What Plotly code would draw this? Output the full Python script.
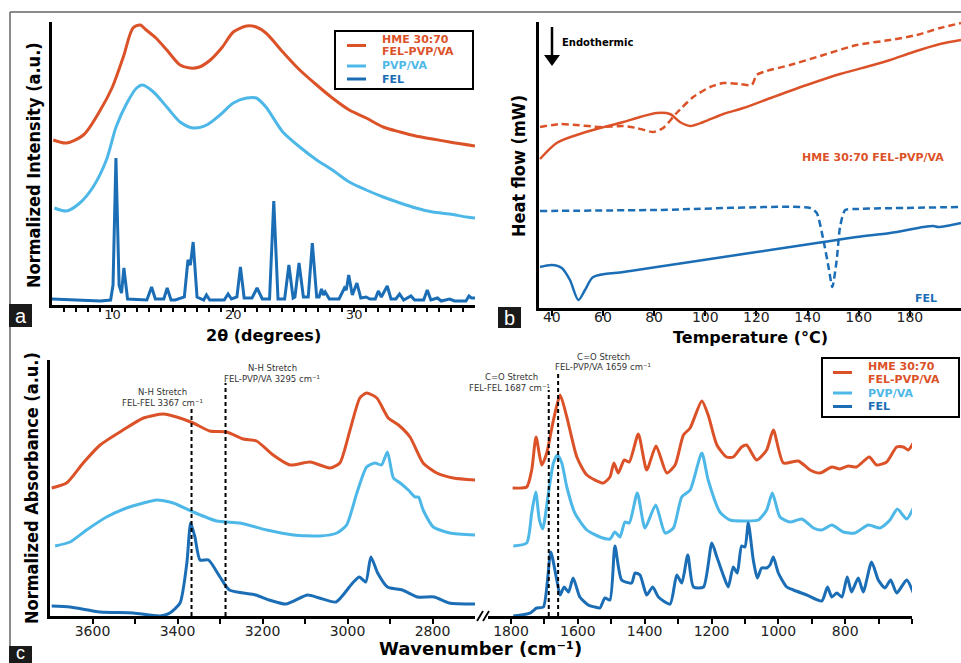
import plotly.graph_objects as go

W, H = 961, 663
C_HME = "#DC5228"
C_PVP = "#4DB8E8"
C_FEL = "#1B6EB5"

# ---------------- Panel a: XRD ----------------
xrd_deg_hme = [5.1, 6.2, 7.6, 9.0, 10.0, 10.9, 11.7, 12.3, 12.8, 13.6, 14.5, 15.6, 16.4, 17.2, 18.1, 19.1,
               20.0, 21.1, 21.9, 22.7, 24.1, 25.5, 26.9, 28.2, 29.6, 31.0, 32.4, 33.8, 35.1, 36.5, 37.9, 40.0]
xrd_int_hme = [165, 162, 170, 195, 218, 248, 277, 280, 275, 267, 255, 240, 237, 238, 245, 258,
               273, 279, 278, 272, 253, 235, 220, 207, 195, 187, 178, 173, 169, 166, 163, 159]

xrd_deg_pvp = [5.2, 6.2, 7.3, 8.4, 9.5, 10.3, 11.2, 12.0, 12.5, 13.4, 14.5, 15.6, 16.7, 17.8, 18.9, 20.0,
               21.1, 21.9, 22.7, 24.1, 25.5, 26.9, 28.2, 29.6, 31.0, 32.4, 33.8, 35.1, 36.5, 37.9, 39.3, 40.0]
xrd_int_pvp = [97, 94, 102, 118, 145, 178, 202, 217, 220, 213, 198, 183, 177, 180, 190, 202,
               207, 207, 198, 173, 158, 145, 135, 123, 115, 108, 102, 97, 93, 91, 88, 87]

xrd_deg_fel = [5.0, 7.0, 9.0, 9.85, 10.05, 10.29, 10.55, 10.75, 10.95, 11.25, 12.85, 13.24, 13.55, 14.25, 14.53, 14.85,
               15.2, 15.95, 16.25, 16.45, 16.68, 17.0, 17.55, 17.78, 18.05, 19.25, 19.57, 19.85, 20.3, 20.59, 20.9,
               21.55, 21.97, 22.4, 23.0, 23.35, 23.7, 24.25, 24.6, 24.95, 25.1, 25.44, 25.8, 26.2, 26.54, 26.9,
               27.1, 27.3, 27.45, 27.6, 27.95, 28.75, 29.2, 29.35, 29.55, 29.85, 30.23, 30.55, 31.0, 31.3, 31.75, 32.0,
               32.25, 32.74, 33.05, 33.45, 33.76, 34.1, 34.7, 35.0, 35.75, 36.05, 36.35, 36.9, 37.2, 37.9, 38.3, 39.25,
               39.5, 39.7, 40.0]
xrd_int_fel = [6, 5, 4, 5, 20, 147, 20, 12, 37, 6, 5, 18, 6, 6, 17, 5,
               5, 8, 45, 40, 63, 8, 5, 10, 5, 5, 11, 6, 8, 38, 7,
               7, 17, 6, 6, 104, 6, 6, 40, 7, 8, 42, 8, 8, 62, 8,
               8, 16, 10, 13, 6, 6, 17, 15, 30, 10, 22, 7, 8, 6, 6, 14,
               8, 19, 6, 6, 11, 5, 9, 5, 5, 15, 5, 7, 4, 6, 4, 4,
               9, 7, 7]
xrd_tick_vals = list(range(6, 40))
xrd_tick_text = [str(v) if v % 10 == 0 else "" for v in xrd_tick_vals]

# ---------------- Panel b: DSC ----------------
dsc_t_hme = [35.4, 41.9, 49.7, 58.9, 68, 74.5, 81, 86.2, 90.1, 94.1, 99.3, 107.1, 114.9, 126.6, 139.7, 152.7,
             165.7, 172.3, 181.4, 191.8, 200]
dsc_hf_hme = [149, 165, 173, 180, 186, 191, 195, 194, 186, 182, 186, 194, 200, 211, 223, 234,
              243, 248, 256, 264, 268]
dsc_t_hme2 = [35.4, 43.2, 49.7, 58.9, 68, 73.2, 79.7, 83.6, 88.8, 95.3, 101.9, 107.1, 113.6, 118.2, 120.1, 124,
              133.2, 146.2, 159.2, 172.3, 182.7, 191.8, 200]
dsc_hf_hme2 = [181, 184, 183, 181, 182, 180, 176, 180, 195, 211, 221, 225, 224, 223, 233, 237,
               243, 253, 263, 268, 273, 280, 285]
dsc_t_fel2 = [35.4, 81, 141, 143.6, 146.2, 148.2, 149.7, 151.4, 152.7, 154.7, 159.2, 200]
dsc_hf_fel2 = [97, 98, 100, 95, 68, 41, 21, 48, 81, 98, 99, 101]
dsc_t_fel = [35.4, 40, 43.9, 47.1, 50.4, 53, 56.2, 68, 81, 94.1, 107.1, 120.1, 133.2, 146.2, 159.2, 172.3,
             185.3, 189.2, 191.2, 200]
dsc_hf_fel = [41, 43, 40, 28, 8, 18, 31, 36, 41, 46, 51, 56, 61, 66, 71, 75,
              81, 82, 81, 85]
dsc_tick_vals = [40, 60, 80, 100, 120, 140, 160, 180]

# ---------------- Panel c: FTIR ----------------
ir_wn_hme_hi = [3696, 3661, 3622, 3582, 3528, 3480, 3433, 3402, 3363, 3324, 3284, 3245, 3214, 3175, 3135, 3088,
                3041, 3018, 2994, 2971, 2955, 2931, 2904, 2880, 2853, 2822, 2790, 2751, 2700]
ir_ab_hme_hi = [128, 133, 153, 171, 186, 198, 202, 199, 193, 185, 184, 177, 175, 161, 151, 154,
                148, 153, 186, 218, 223, 218, 198, 191, 179, 153, 143, 138, 136]
ir_wn_hme_lo = [1795, 1753, 1738, 1725, 1708, 1693, 1673, 1653, 1633, 1603, 1573, 1524, 1504, 1492, 1479, 1461,
                1446, 1419, 1394, 1366, 1334, 1309, 1284, 1264, 1229, 1210, 1184, 1155, 1135, 1110, 1095, 1065,
                1035, 1015, 985, 940, 905, 875, 840, 816, 791, 766, 728, 706, 676, 646, 626, 611, 596]
ir_ab_hme_lo = [128, 129, 146, 179, 151, 163, 196, 221, 199, 159, 141, 133, 139, 153, 143, 156,
                154, 182, 146, 170, 143, 151, 181, 188, 215, 201, 171, 159, 159, 169, 171, 156,
                166, 186, 153, 155, 146, 143, 149, 147, 150, 149, 159, 151, 154, 169, 169, 166, 173]

ir_wn_pvp_hi = [3688, 3653, 3614, 3567, 3520, 3480, 3449, 3410, 3363, 3308, 3253, 3190, 3127, 3065, 3025, 3002,
                2978, 2955, 2935, 2920, 2906, 2892, 2876, 2857, 2841, 2833, 2822, 2798, 2759, 2700]
ir_ab_pvp_hi = [70, 74, 86, 99, 108, 113, 116, 113, 104, 95, 93, 86, 81, 80, 83, 91,
                123, 149, 153, 151, 164, 138, 133, 126, 119, 119, 106, 89, 83, 81]
ir_wn_pvp_lo = [1793, 1753, 1738, 1726, 1715, 1705, 1688, 1673, 1661, 1648, 1633, 1609, 1573, 1534, 1504, 1489,
                1474, 1459, 1446, 1422, 1399, 1367, 1339, 1314, 1289, 1264, 1229, 1210, 1175, 1145, 1095, 1060,
                1035, 1018, 995, 965, 930, 895, 870, 840, 806, 771, 731, 696, 666, 644, 616, 596]
ir_ab_pvp_lo = [70, 73, 103, 124, 96, 87, 123, 153, 161, 153, 129, 103, 86, 79, 77, 84,
                79, 94, 93, 123, 88, 111, 83, 88, 119, 126, 163, 136, 104, 96, 95, 96,
                106, 123, 99, 94, 97, 88, 86, 91, 84, 83, 91, 88, 96, 107, 97, 108]

ir_wn_fel_hi = [3696, 3653, 3582, 3504, 3441, 3418, 3394, 3378, 3369, 3359, 3347, 3327, 3300, 3278, 3216, 3184,
                3145, 3094, 3066, 3027, 2988, 2972, 2957, 2945, 2929, 2906, 2871, 2835, 2796, 2761, 2700]
ir_ab_fel_hi = [10, 9, 4, 3, 0, 3, 13, 53, 93, 79, 56, 56, 39, 26, 21, 16,
                12, 21, 18, 14, 33, 39, 34, 59, 43, 29, 26, 19, 19, 13, 12]
ir_wn_fel_lo = [1793, 1743, 1723, 1703, 1681, 1663, 1653, 1641, 1628, 1614, 1594, 1569, 1549, 1534, 1519, 1504,
                1489, 1469, 1439, 1429, 1414, 1394, 1376, 1359, 1324, 1304, 1289, 1271, 1254, 1224, 1199, 1184,
                1165, 1150, 1135, 1123, 1110, 1100, 1090, 1075, 1063, 1050, 1035, 1025, 1015, 1000, 975, 955,
                915, 870, 853, 840, 825, 810, 794, 781, 761, 746, 721, 701, 681, 664, 646, 616, 596]
ir_ab_fel_lo = [0, 3, 8, 9, 64, 36, 21, 29, 24, 38, 19, 11, 9, 8, 18, 16,
                70, 36, 33, 43, 41, 21, 29, 19, 12, 41, 33, 61, 29, 29, 73, 59,
                41, 29, 49, 43, 70, 69, 93, 56, 38, 48, 48, 51, 59, 43, 29, 26,
                21, 15, 29, 19, 23, 19, 39, 24, 38, 24, 54, 36, 28, 36, 23, 36, 23]

ir_marker_wn_hi = [3367, 3287]
ir_marker_top_hi = [209, 233]
ir_marker_wn_lo = [1687, 1659]
ir_marker_top_lo = [226, 243]
ir_tick_hi = [3600, 3500, 3400, 3300, 3200, 3100, 3000, 2900, 2800]
ir_tick_lo = [1800, 1700, 1600, 1500, 1400, 1300, 1200, 1100, 1000, 900, 800, 700, 600]


def px(x):
    return x / W


def py(y):
    return 1 - y / H


fig = go.Figure()

LW = 3
fig.add_trace(go.Scatter(x=xrd_deg_hme, y=xrd_int_hme, mode="lines", xaxis="x", yaxis="y",
                         line=dict(color=C_HME, width=LW, shape="spline", smoothing=0.8)))
fig.add_trace(go.Scatter(x=xrd_deg_pvp, y=xrd_int_pvp, mode="lines", xaxis="x", yaxis="y",
                         line=dict(color=C_PVP, width=LW, shape="spline", smoothing=0.8)))
fig.add_trace(go.Scatter(x=xrd_deg_fel, y=xrd_int_fel, mode="lines", xaxis="x", yaxis="y",
                         line=dict(color=C_FEL, width=LW)))

fig.add_trace(go.Scatter(x=dsc_t_hme, y=dsc_hf_hme, mode="lines", xaxis="x2", yaxis="y2",
                         line=dict(color=C_HME, width=2.5, shape="spline", smoothing=0.8)))
fig.add_trace(go.Scatter(x=dsc_t_hme2, y=dsc_hf_hme2, mode="lines", xaxis="x2", yaxis="y2",
                         line=dict(color=C_HME, width=2.5, dash="7px,4px", shape="spline", smoothing=0.6)))
fig.add_trace(go.Scatter(x=dsc_t_fel2, y=dsc_hf_fel2, mode="lines", xaxis="x2", yaxis="y2",
                         line=dict(color=C_FEL, width=2.5, dash="7px,4px", shape="spline", smoothing=0.6)))
fig.add_trace(go.Scatter(x=dsc_t_fel, y=dsc_hf_fel, mode="lines", xaxis="x2", yaxis="y2",
                         line=dict(color=C_FEL, width=2.5, shape="spline", smoothing=0.8)))

for wx, wy, c in [(ir_wn_hme_hi, ir_ab_hme_hi, C_HME), (ir_wn_pvp_hi, ir_ab_pvp_hi, C_PVP),
                  (ir_wn_fel_hi, ir_ab_fel_hi, C_FEL)]:
    fig.add_trace(go.Scatter(x=wx, y=wy, mode="lines", xaxis="x3", yaxis="y3",
                             line=dict(color=c, width=LW, shape="spline", smoothing=0.6)))
for wx, wy, c in [(ir_wn_hme_lo, ir_ab_hme_lo, C_HME), (ir_wn_pvp_lo, ir_ab_pvp_lo, C_PVP),
                  (ir_wn_fel_lo, ir_ab_fel_lo, C_FEL)]:
    fig.add_trace(go.Scatter(x=wx, y=wy, mode="lines", xaxis="x4", yaxis="y4",
                             line=dict(color=c, width=LW, shape="spline", smoothing=0.6)))

tickfont = dict(family="DejaVu Sans", size=13, color="#222")
common_x = dict(showline=True, linecolor="black", linewidth=2.5, ticks="outside", tickcolor="black",
                tickwidth=2, ticklen=5, showgrid=False, zeroline=False, fixedrange=True)
common_y = dict(showline=True, linecolor="black", linewidth=2.5, showticklabels=False, ticks="",
                showgrid=False, zeroline=False)

fig.update_layout(
    width=W, height=H, margin=dict(l=0, r=0, t=0, b=0),
    paper_bgcolor="white", plot_bgcolor="white", showlegend=False,
    xaxis=dict(common_x, domain=[px(52), px(475)], range=[5, 40], anchor="y",
               tickvals=xrd_tick_vals, ticktext=xrd_tick_text, tickfont=tickfont, ticklen=4,
               ticklabelstandoff=-8),
    yaxis=dict(common_y, domain=[py(305), py(22)], range=[0, 283], anchor="x"),
    xaxis2=dict(common_x, domain=[px(539), 1.0], range=[35, 200], anchor="y2",
                tickvals=dsc_tick_vals, tickfont=dict(tickfont, size=14), ticklabelstandoff=-11),
    yaxis2=dict(common_y, domain=[py(308), py(22)], range=[0, 286], anchor="x2"),
    xaxis3=dict(common_x, domain=[px(50), px(475)], range=[3700, 2700], anchor="y3",
                tickvals=ir_tick_hi, ticktext=[str(v) if v % 200 == 0 else "" for v in ir_tick_hi],
                tickfont=dict(tickfont, size=14), ticklabelstandoff=-5),
    yaxis3=dict(common_y, domain=[py(616), py(360)], range=[0, 256], anchor="x3"),
    xaxis4=dict(common_x, domain=[px(488), px(912)], range=[1868.8, 600.1], anchor="y4",
                tickvals=ir_tick_lo,
                ticktext=[str(v) if (v % 200 == 0 and v >= 800) else "" for v in ir_tick_lo],
                tickfont=dict(tickfont, size=14), ticklabelstandoff=-5),
    yaxis4=dict(common_y, domain=[py(616), py(360)], range=[0, 256], anchor="x4", showline=False),
)

shapes = []
# outer frame
shapes.append(dict(type="line", xref="paper", yref="paper", x0=px(10), x1=1.0, y0=py(12), y1=py(12),
                   line=dict(color="#666", width=1.5)))
shapes.append(dict(type="line", xref="paper", yref="paper", x0=px(10), x1=px(10), y0=py(12), y1=0,
                   line=dict(color="#666", width=1.5)))
# panel letter boxes
for (x0, y0, x1, y1) in [(9, 304, 32, 327), (498, 307, 521, 328), (9, 646, 32, 669)]:
    shapes.append(dict(type="rect", xref="paper", yref="paper", x0=px(x0), x1=px(x1), y0=py(y1), y1=py(y0),
                       fillcolor="#1a1a1a", line=dict(width=0)))
# legend boxes
for (x0, y0, x1, y1) in [(335, 31, 473, 89), (822, 358, 959, 417)]:
    shapes.append(dict(type="rect", xref="paper", yref="paper", x0=px(x0), x1=px(x1), y0=py(y1), y1=py(y0),
                       line=dict(color="black", width=2), fillcolor="white"))
# legend line samples
for (x0, x1, y, c) in [(347, 366, 45.5, C_HME), (347, 366, 66, C_PVP), (347, 366, 79, C_FEL),
                       (833, 852, 372.5, C_HME), (833, 852, 393, C_PVP), (833, 852, 406.5, C_FEL)]:
    shapes.append(dict(type="line", xref="paper", yref="paper", x0=px(x0), x1=px(x1), y0=py(y), y1=py(y),
                       line=dict(color=c, width=3)))
# endothermic arrow
shapes.append(dict(type="line", xref="paper", yref="paper", x0=px(552), x1=px(552), y0=py(27), y1=py(56),
                   line=dict(color="black", width=2.5)))
shapes.append(dict(type="path", xref="paper", yref="paper",
                   path=f"M {px(544)} {py(55)} L {px(560)} {py(55)} L {px(552)} {py(66)} Z",
                   fillcolor="black", line=dict(width=0)))
# axis break marks
for dx in (0, 6):
    shapes.append(dict(type="line", xref="paper", yref="paper", x0=px(477 + dx), x1=px(483 + dx),
                       y0=py(621), y1=py(611), line=dict(color="black", width=1.8)))
# dashed markers in FTIR panel
for wn, top in zip(ir_marker_wn_hi, ir_marker_top_hi):
    shapes.append(dict(type="line", xref="x3", yref="y3", x0=wn, x1=wn, y0=0, y1=top,
                       line=dict(color="black", width=2, dash="4px,3px")))
for wn, top in zip(ir_marker_wn_lo, ir_marker_top_lo):
    shapes.append(dict(type="line", xref="x4", yref="y4", x0=wn, x1=wn, y0=0, y1=top,
                       line=dict(color="black", width=2, dash="4px,3px")))
fig.update_layout(shapes=shapes)

ann = []


def text(x, y, s, size, color="black", family="DejaVu Sans", xanchor="center", angle=0, bold=False):
    ann.append(dict(xref="paper", yref="paper", x=px(x), y=py(y), text=(f"<b>{s}</b>" if bold else s),
                    showarrow=False, xanchor=xanchor, yanchor="middle", textangle=angle,
                    font=dict(family=family, size=size, color=color)))


# panel letters
text(20.5, 315.5, "a", 20, "white", "Liberation Sans")
text(509.5, 317.5, "b", 20, "white", "Liberation Sans")
text(20.5, 653, "c", 18, "white", "Liberation Sans")
# axis titles
text(263, 335, "2θ (degrees)", 16, bold=True)
text(750, 337, "Temperature (°C)", 16, bold=True)
text(480, 648, "Wavenumber (cm⁻¹)", 18, bold=True)
ytf = "Liberation Sans Narrow, DejaVu Sans Condensed, Arial Narrow, sans-serif"
text(33, 165, "Normalized Intensity (a.u.)", 18, family=ytf, angle=-90, bold=True)
text(518, 166, "Heat flow (mW)", 18, family=ytf, angle=-90, bold=True)
text(31, 488, "Normalized Absorbance (a.u.)", 18, family=ytf, angle=-90, bold=True)
# legends
for (x, ys) in [(380, (39, 52, 66, 79)), (866, (366, 379, 393, 406))]:
    text(x, ys[0], "HME 30:70", 11, C_HME, xanchor="left", bold=True)
    text(x, ys[1], "FEL-PVP/VA", 11, C_HME, xanchor="left", bold=True)
    text(x, ys[2], "PVP/VA", 11, C_PVP, xanchor="left", bold=True)
    text(x, ys[3], "FEL", 11, C_FEL, xanchor="left", bold=True)
# DSC annotations
text(560, 42, "Endothermic", 10, xanchor="left", bold=True)
text(800, 157, "HME 30:70 FEL-PVP/VA", 11, C_HME, xanchor="left", bold=True)
text(926, 298, "FEL", 11, C_FEL, bold=True)
# FTIR annotations
tc = "#333"
text(162, 392, "N-H Stretch", 8.5, tc)
text(162, 403, "FEL-FEL 3367 cm⁻¹", 8.5, tc)
text(272, 368, "N-H Stretch", 8.5, tc)
text(272, 379, "FEL-PVP/VA 3295 cm⁻¹", 8.5, tc)
text(511, 377, "C=O Stretch", 8.5, tc)
text(510, 388, "FEL-FEL 1687 cm⁻¹", 8.5, tc)
text(603, 357, "C=O Stretch", 8.5, tc)
text(603, 367, "FEL-PVP/VA 1659 cm⁻¹", 8.5, tc)
fig.update_layout(annotations=ann)

fig.write_html("out.html")
